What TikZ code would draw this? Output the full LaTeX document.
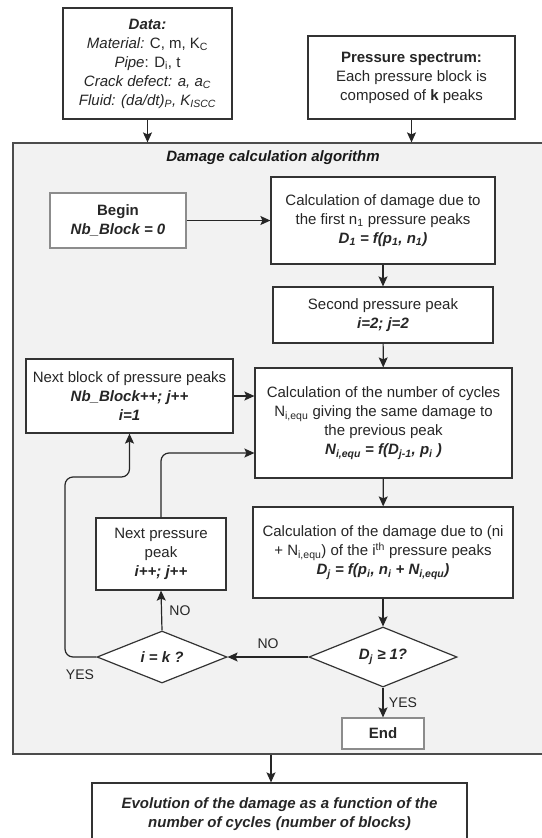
\documentclass[tikz,border=0pt]{standalone}
\usepackage{fontspec}
\setmainfont{Liberation Sans}
\usetikzlibrary{arrows,arrows.meta,shapes.geometric,calc}

\begin{document}
\begin{tikzpicture}[x=1pt,y=-1pt,
  font=\fontsize{15}{19}\selectfont,
  box/.style={draw=black!80,fill=white,align=center,inner sep=0pt,text=black!85,line width=1.2pt},
  greybox/.style={box,draw=black!45},
  test/.style={box,diamond,aspect=2.5},
  flow/.style={-{Stealth[length=10pt,width=9pt,inset=2pt]},draw=black!85,line width=1.2pt},
  lbl/.style={text=black!85,font=\fontsize{14}{16}\selectfont}]
\useasboundingbox (0,0) rectangle (541,838);
\node[box,minimum width=169pt,minimum height=111pt] (data) at (147.5,63.5)
  {\textbf{\textit{Data:}}\\ \textit{Material:} C, m, K\textsubscript{C}\\ \textit{Pipe}: D\textsubscript{i}, t\\
   \textit{Crack defect: a, a\textsubscript{C}}\\ \textit{Fluid: (da/dt)\textsubscript{P}, K\textsubscript{ISCC}}};
\node[box,minimum width=207pt,minimum height=83pt] (spec) at (411.5,77.5)
  {\textbf{Pressure spectrum:}\\ Each pressure block is\\ composed of \textbf{k} peaks};
\node[box,draw=black!70,fill=black!5,minimum width=532pt,minimum height=611pt] (algo) at (279,448.5) {};
\node[text=black!90] (title) at (273,158) {\textbf{\textit{Damage calculation algorithm}}};
\node[greybox,minimum width=136pt,minimum height=55pt] (begin) at (118,220.5)
  {\textbf{Begin}\\ \textbf{\textit{Nb\_Block = 0}}};
\node[box,minimum width=224pt,minimum height=87pt] (first) at (383,220.5)
  {Calculation of damage due to\\ the first n\textsubscript{1} pressure peaks\\
   \textbf{\textit{D\textsubscript{1} = f(p\textsubscript{1}, n\textsubscript{1})}}};
\node[box,minimum width=220pt,minimum height=56pt] (second) at (383,315)
  {Second pressure peak\\ \textbf{\textit{i=2; j=2}}};
\node[box,minimum width=207pt,minimum height=74pt] (nextblk) at (129.5,396)
  {Next block of pressure peaks\\ \textbf{\textit{Nb\_Block++; j++}}\\ \textbf{\textit{i=1}}};
\node[box,minimum width=257pt,minimum height=110pt] (nequ) at (383.5,423)
  {Calculation of the number of cycles\\ N\textsubscript{i,equ} giving the same damage to\\ the previous peak\\
   \textbf{\textit{N\textsubscript{i,equ} = f(D\textsubscript{j-1}, p\textsubscript{i} )}}};
\node[box,minimum width=130pt,minimum height=72pt] (nextpk) at (161,554)
  {Next pressure\\ peak\\ \textbf{\textit{i++; j++}}};
\node[box,minimum width=260pt,minimum height=91pt] (dj) at (383,552.5)
  {Calculation of the damage due to (ni\\ + N\textsubscript{i,equ}) of the i\textsuperscript{th} pressure peaks\\
   \textbf{\textit{D\textsubscript{j} = f(p\textsubscript{i}, n\textsubscript{i} + N\textsubscript{i,equ})}}};
\node[test,minimum width=130pt,minimum height=52pt] (ik) at (162,657) {\textbf{\textit{i = k ?}}};
\node[test,minimum width=148pt,minimum height=60pt] (dge) at (383,657) {\textbf{\textit{D\textsubscript{j} ≥ 1?}}};
\node[greybox,minimum width=82pt,minimum height=31pt] (end) at (383,733.5) {\textbf{End}};
\node[box,minimum width=375pt,minimum height=62pt] (evo) at (279.5,814)
  {\textbf{\textit{Evolution of the damage as a function of the}}\\ \textbf{\textit{number of cycles (number of blocks)}}};
\coordinate (yesturn) at (65,477);
\draw[flow] (data) -- (data |- algo.north);
\draw[flow] (spec) -- (spec |- algo.north);
\draw[flow] (begin) -- (first);
\draw[flow] (first) -- (second);
\draw[flow] (second) -- (nequ);
\draw[flow] (nextblk.east) -- (nequ.west |- nextblk.east);
\draw[flow,rounded corners=8pt] (nextpk.north) |- ([yshift=-30pt]nequ.west);
\draw[flow] (nequ) -- (dj);
\draw[flow] (dj) -- (dge);
\draw[flow] (dge.west) -- node[lbl,above=4pt] {NO} (ik.east);
\draw[flow] (ik.north) -- node[lbl,right=4pt] {NO} (nextpk.south);
\draw[flow,rounded corners=8pt] (ik.west) -| (yesturn) -| (nextblk.south);
\node[lbl] (yes1) at (80,675) {YES};
\draw[flow] (dge.south) -- node[lbl,right=2pt] {YES} (end.north);
\draw[flow] ([xshift=-8pt]algo.south) -- ([xshift=-8pt]algo.south |- evo.north);
\end{tikzpicture}
\end{document}
